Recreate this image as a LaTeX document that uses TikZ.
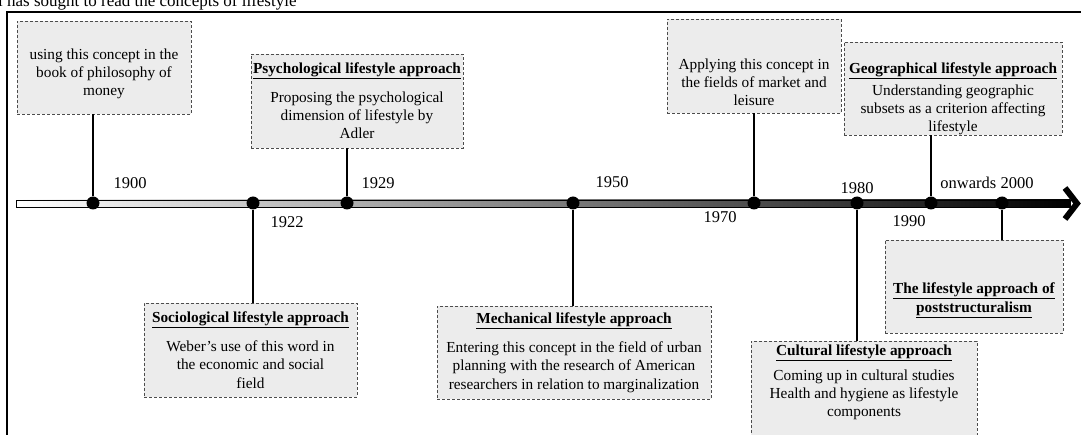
\documentclass[tikz,border=0pt]{standalone}
\usepackage{fontspec}
\setmainfont{Liberation Serif}
\tikzset{
event/.style={draw=gray!60!black, densely dashed, line width=0.5pt, fill=gray!15,
  align=center, inner sep=2pt, font=\fontsize{15.3}{18.3}\selectfont},
eventtext/.style={align=center, inner sep=0pt, font=\fontsize{15.3}{18.3}\selectfont},
yeardot/.style={circle, fill=black, inner sep=0pt, minimum size=13pt},
year/.style={inner sep=0pt, font=\fontsize{16.5}{18}\selectfont},
stem/.style={line width=1.6pt}
}
\newcommand{\apptitle}[1]{\underline{\textbf{#1}}}

\begin{document}
\begin{tikzpicture}[x=1pt,y=-1pt]
\useasboundingbox (0,0) rectangle (1081,435);
\node[anchor=base west, inner sep=0pt, font=\fontsize{17}{18}\selectfont] (heading) at (-2,7)
  {l has sought to read the concepts of lifestyle};
\draw[line width=2pt] (7,440) -- (7,12) -- (1090,12);

\coordinate (tl0) at (16,203.5);
\coordinate (tl1) at (1070,203.5);
\shade[left color=white, right color=black] (16,200) rectangle (1070,207);
\draw[line width=0.6pt] (16,200) rectangle (1070,207);
\draw[line width=6pt] (1065,188) -- (1077,203.5) -- (1065,219);

\node[yeardot] (d1900) at (93,203) {};
\node[yeardot] (d1922) at (253,203) {};
\node[yeardot] (d1929) at (347,203) {};
\node[yeardot] (d1950) at (573,203) {};
\node[yeardot] (d1970) at (754,203) {};
\node[yeardot] (d1980) at (857,203) {};
\node[yeardot] (d1990) at (931,203) {};
\node[yeardot] (d2000) at (1002,203) {};

\node[year] (l1900) at (130,183) {1900};
\node[year] (l1922) at (287,222) {1922};
\node[year] (l1929) at (378,183) {1929};
\node[year] (l1950) at (612,182) {1950};
\node[year] (l1970) at (720,217) {1970};
\node[year] (l1980) at (857,188) {1980};
\node[year] (l1990) at (909,221) {1990};
\node[year] (l2000) at (987,183) {onwards 2000};

\node[event, minimum width=174, minimum height=93] (b1900) at (104,67.5)
  {{}\\[5pt] using this concept in the\\ book of philosophy of\\ money};
\node[event, minimum width=208, minimum height=94] (b1929) at (357,101)
  {\apptitle{Psychological lifestyle approach}\\[10pt] Proposing the psychological\\ dimension of lifestyle by\\ Adler};
\node[event, minimum width=174, minimum height=94] (b1970) at (754,66)
  {{}\\[25pt] Applying this concept in\\ the fields of market and\\ leisure};
\node[event, minimum width=218, minimum height=93] (b1990) at (953,88.5) {};
\node[eventtext] (t1990) at (953,99)
  {\apptitle{Geographical lifestyle approach}\\[3pt] Understanding geographic\\ subsets as a criterion affecting\\ lifestyle};
\node[event, minimum width=213, minimum height=94] (b1922) at (250.5,350)
  {\apptitle{Sociological lifestyle approach}\\[11pt] Weber's use of this word in\\ the economic and social\\ field};
\node[event, minimum width=274, minimum height=93] (b1950) at (574,352.5)
  {\apptitle{Mechanical lifestyle approach}\\[11pt] Entering this concept in the field of urban\\ planning with the research of American\\ researchers in relation to marginalization};
\node[event, minimum width=226, minimum height=94] (b1980) at (864,388)
  {\apptitle{Cultural lifestyle approach}\\[6pt] Coming up in cultural studies\\ Health and hygiene as lifestyle\\ components\\[-4pt]{}};
\node[event, minimum width=178, minimum height=93] (b2000) at (974,286.5)
  {{}\\[20pt] \apptitle{The lifestyle approach of}\\ \apptitle{poststructuralism}};

\draw[stem] (d1900) -- (d1900 |- b1900.south);
\draw[stem] (d1929) -- (d1929 |- b1929.south);
\draw[stem] (d1970) -- (d1970 |- b1970.south);
\draw[stem] (d1990) -- (d1990 |- b1990.south);
\draw[stem] (d1922) -- (d1922 |- b1922.north);
\draw[stem] (d1950) -- (d1950 |- b1950.north);
\draw[stem] (d1980) -- (d1980 |- b1980.north);
\draw[stem] (d2000) -- (d2000 |- b2000.north);
\end{tikzpicture}
\end{document}
